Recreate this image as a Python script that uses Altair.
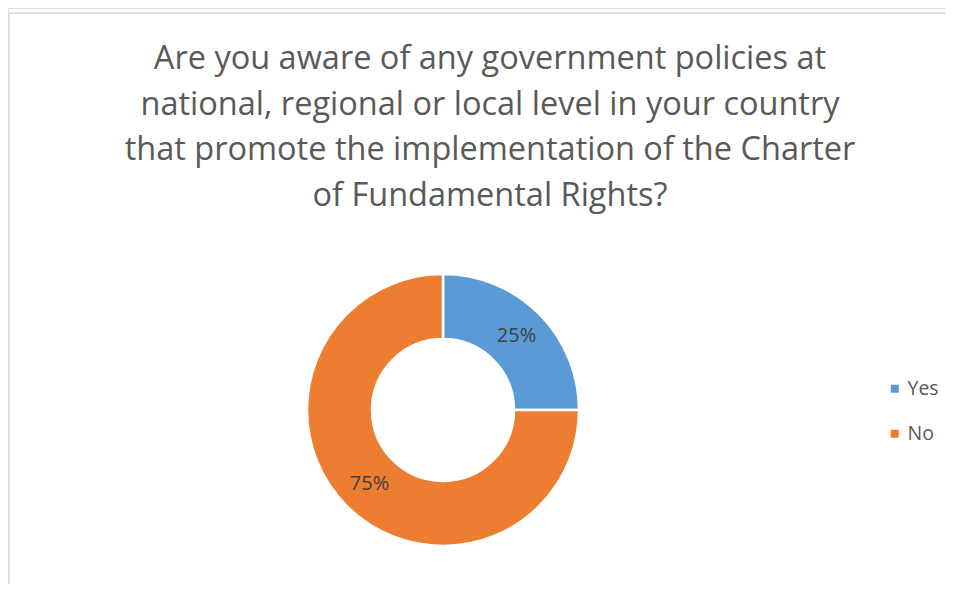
import altair as alt
import pandas as pd

categories = ["Yes", "No"]
values = [25, 75]
labels = ["25%", "75%"]
colors = ["#5B9BD5", "#ED7D31"]
title_lines = [
    "Are you aware of any government policies at",
    "national, regional or local level in your country",
    "that promote the implementation of the Charter",
    "of Fundamental Rights?",
]

df = pd.DataFrame({"category": categories, "value": values, "label": labels,
                   "order": list(range(len(categories)))})

W, H = 938, 576
CX, CY = 435, 402

base = alt.Chart(df)

arcs = base.mark_arc(innerRadius=71, outerRadius=136, stroke="white", strokeWidth=2.5).encode(
    theta=alt.Theta("value:Q", stack=True),
    color=alt.Color("category:N", sort=categories,
                    scale=alt.Scale(domain=categories, range=colors),
                    legend=alt.Legend(title=None, orient="none", legendX=877, legendY=371,
                                      symbolType="square", symbolSize=64, symbolStrokeWidth=0,
                                      labelFontSize=19.5, labelColor="#595959", labelFont="Open Sans",
                                      rowPadding=24, labelOffset=3, padding=0)),
    order=alt.Order("order:Q"),
    x=alt.value(CX), y=alt.value(CY),
)

texts = base.mark_text(radius=104, fontSize=20, color="#404040", font="Open Sans").encode(
    theta=alt.Theta("value:Q", stack=True),
    text="label:N",
    order=alt.Order("order:Q"),
    x=alt.value(CX), y=alt.value(CY),
)

title_df = pd.DataFrame({"t": ["\n".join(title_lines)]})
title = alt.Chart(title_df).mark_text(
    lineBreak="\n", lineHeight=45.5, fontSize=32.5, font="Open Sans", color="#595959",
    align="center", baseline="alphabetic"
).encode(text="t:N", x=alt.value(482), y=alt.value(61))

border_df = pd.DataFrame({"a": [0]})
top_rule = alt.Chart(border_df).mark_rule(color="#D9D9D9", strokeWidth=1.5).encode(
    x=alt.value(1), x2=alt.value(W), y=alt.value(5))
left_rule = alt.Chart(border_df).mark_rule(color="#D9D9D9", strokeWidth=1.5).encode(
    x=alt.value(1), y=alt.value(5), y2=alt.value(H))

chart = alt.layer(top_rule, left_rule, arcs, texts, title).properties(
    width=W, height=H, autosize=alt.AutoSizeParams(type="none"), padding=0
).configure_view(stroke=None).configure(background="white")

chart.save("out.html", embed_options={"renderer": "svg", "actions": False})
